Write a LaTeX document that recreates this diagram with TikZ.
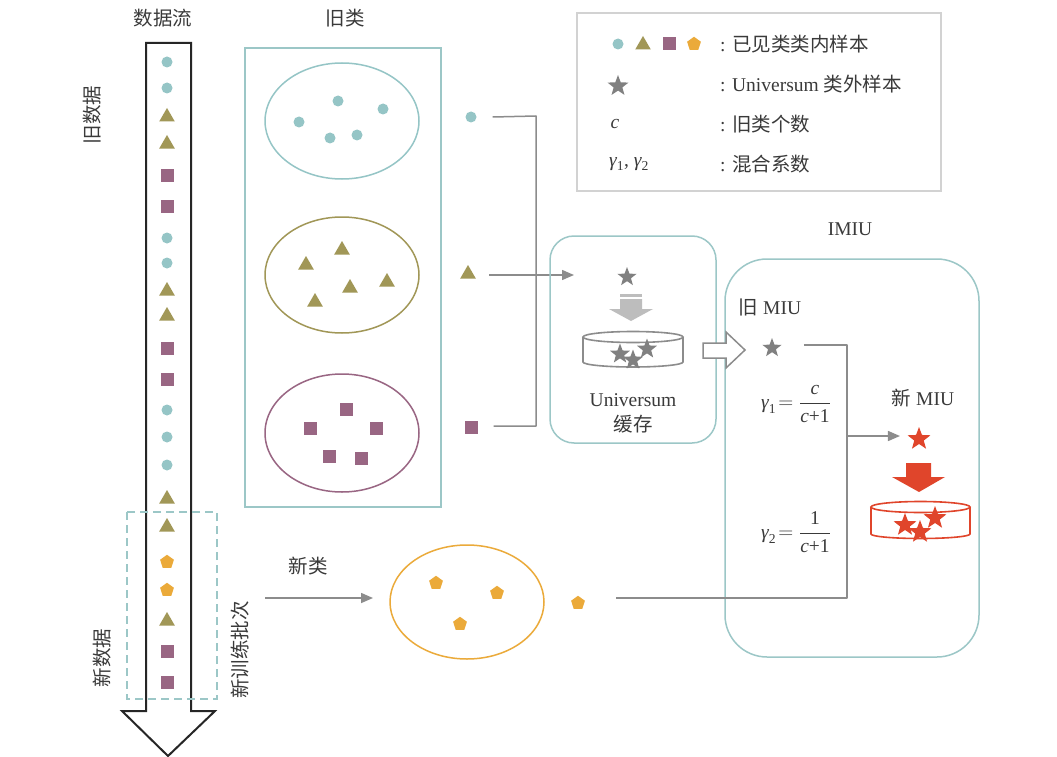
\documentclass[tikz,border=0pt]{standalone}
\usepackage{fontspec}
\usepackage{amsmath}
\setmainfont{Liberation Serif}
\newfontfamily\cjk{Noto Sans CJK SC}
\usetikzlibrary{shapes.geometric,arrows.meta}
\definecolor{cteal}{HTML}{95C5C6}
\definecolor{colive}{HTML}{A19757}
\definecolor{cpurple}{HTML}{996683}
\definecolor{corange}{HTML}{EBAA3A}
\definecolor{cgrey}{HTML}{808080}
\definecolor{cline}{HTML}{8C8C8C}
\definecolor{cred}{HTML}{E0452B}
\definecolor{ctext}{HTML}{3A3A3A}
\definecolor{cbox}{HTML}{9CC7C7}
\definecolor{clight}{HTML}{BDBDBD}
\definecolor{clegend}{HTML}{D2D2D2}
\newcommand{\mygam}{\text{\itshape γ}}
\newcommand{\myc}{\text{\itshape c}}
\begin{document}
\begin{tikzpicture}[x=1pt,y=-1pt,
  every node/.style={text=ctext, font=\fontsize{19.5}{22}\selectfont},
  dot/.style={circle,fill=cteal,inner sep=0pt,minimum size=11pt},
  tri/.style={regular polygon,regular polygon sides=3,fill=colive,inner sep=0pt,minimum size=18pt},
  sq/.style={rectangle,fill=cpurple,inner sep=0pt,minimum size=13pt},
  pent/.style={regular polygon,regular polygon sides=5,fill=corange,inner sep=0pt,minimum size=14.5pt},
  gstar/.style={star,star points=5,star point ratio=2.4,fill=cgrey,inner sep=0pt,minimum size=20pt},
  rstar/.style={star,star points=5,star point ratio=2.4,fill=cred,inner sep=0pt,minimum size=24pt},
  conn/.style={draw=cline,line width=1.5pt},
  arr/.style={conn,-{Triangle[length=12pt,width=10pt]}},
  lbl/.style={inner sep=0pt},
]
\useasboundingbox (0,0) rectangle (1057,757);
\fill[white] (0,0) rectangle (1057,757);

% ---------- data stream ----------
\node[lbl] (title) at (163,18) {\cjk 数据流};
\draw[line width=2pt,draw=black!85,fill=white,line join=miter]
  (146,43) -- (191,43) -- (191,711) -- (215,711) -- (168,756) -- (122,711) -- (146,711) -- cycle;
\foreach \t/\y [count=\i] in {dot/62,dot/88,tri/117,tri/144,sq/175,sq/206,dot/238,dot/263,tri/291,tri/316,sq/348,sq/379,dot/410,dot/437,dot/465,tri/499,tri/527,pent/562,pent/590,tri/621,sq/651,sq/682}
  \node[\t] (s\i) at (167,\y) {};
\draw[cbox,line width=1.5pt,dash pattern=on 8pt off 5pt] (127,512) rectangle (217,699);
\node[lbl,rotate=90] (olddata) at (92,115) {\cjk 旧数据};
\node[lbl,rotate=90] (newdata) at (102,658) {\cjk 新数据};
\node[lbl,rotate=90] (batch) at (240,650) {\cjk 新训练批次};

% ---------- old classes ----------
\node[lbl] (oldcls) at (345,18) {\cjk 旧类};
\draw[cbox,line width=1.5pt] (245,48) rectangle (441,507);
\draw[cteal,line width=1.5pt] (342,121) ellipse (77 and 58);
\draw[colive,line width=1.5pt] (342,275) ellipse (77 and 58);
\draw[cpurple,line width=1.5pt] (342,433) ellipse (77 and 59);
\node[dot] (a1) at (299,122) {};
\node[dot] (a2) at (338,101) {};
\node[dot] (a3) at (383,109) {};
\node[dot] (a4) at (330,138) {};
\node[dot] (a5) at (357,135) {};
\node[tri] (b1) at (342,250) {};
\node[tri] (b2) at (306,265) {};
\node[tri] (b3) at (350,288) {};
\node[tri] (b4) at (387,282) {};
\node[tri] (b5) at (315,302) {};
\node[sq] (c1) at (346,409) {};
\node[sq] (c2) at (310,428) {};
\node[sq] (c3) at (376,428) {};
\node[sq] (c4) at (329,456) {};
\node[sq] (c5) at (361,458) {};

\node[dot] (oc) at (471,117) {};
\node[tri] (ot) at (468,274) {};
\node[sq] (os) at (471,427) {};
\coordinate (jt) at (536,116);
\coordinate (jb) at (536,426);
\coordinate (uin) at (574,275);
\draw[conn,line join=round] ([xshift=16pt]oc.east) -- (jt) -- (jb) -- ([xshift=16pt]os.east |- jb);
\draw[arr] ([xshift=16pt]ot.east |- uin) -- (uin);

% ---------- Universum cache ----------
\draw[cbox,line width=1.5pt,rounded corners=24pt] (550,236) rectangle (716,443);
\node[gstar] (ustar) at (627,277) {};
\fill[clight] (620,294) rectangle (642,297);
\fill[clight] (620,299) -- (642,299) -- (642,309) -- (653,309) -- (631,321) -- (609,309) -- (620,309) -- cycle;
\draw[cline,line width=1.6pt] (633,337) ellipse (50 and 5.5);
\draw[cline,line width=1.6pt] (583,337) -- (583,362) arc[start angle=180,end angle=360,x radius=50,y radius=-5] -- (683,337);
\node[gstar,minimum size=21pt] (u1) at (620,354) {};
\node[gstar,minimum size=21pt] (u2) at (633,360) {};
\node[gstar,minimum size=21pt] (u3) at (647,349) {};
\node[lbl] (univ) at (633,400) {Universum};
\node[lbl] (cache) at (633,424) {\cjk 缓存};

% ---------- IMIU ----------
\node[lbl] (imiu) at (850,229) {IMIU};
\draw[cbox,line width=1.5pt,rounded corners=42pt] (725,259) rectangle (979,657);
\draw[cline,line width=1.5pt,fill=white,line join=miter]
  (703,343) -- (726,343) -- (726,332) -- (745,350) -- (726,368) -- (726,358) -- (703,358) -- cycle;
\node[lbl] (oldmiu) at (770,307) {{\cjk 旧} MIU};
\node[gstar] (ostar) at (772,348) {};
\coordinate (mt) at (847,345);
\coordinate (mm) at (847,436);
\coordinate (mb) at (847,598);
\node[pent] (np) at (578,603) {};
\draw[conn,line join=round] ([xshift=26pt]ostar.east |- mt) -- (mt) -- (mb) -- ([xshift=32pt]np.east |- mb);
\node[lbl] (g1) at (796,404) {$\mygam_{\text{1}}\!=\dfrac{\myc}{\myc\text{+1}}$};
\node[lbl] (g2) at (796,532) {$\mygam_{\text{2}}\!=\dfrac{\text{1}}{\myc\text{+1}}$};
\node[lbl] (newmiu) at (923,398) {{\cjk 新} MIU};
\node[rstar] (nstar) at (919,439) {};
\draw[arr] (mm) -- ([xshift=-12pt]nstar.west |- mm);
\fill[cred] (906,463) -- (931,463) -- (931,477) -- (945,477) -- (919,492) -- (892,477) -- (906,477) -- cycle;
\draw[cred,line width=1.6pt] (920.5,507) ellipse (49.5 and 5.5);
\draw[cred,line width=1.6pt] (871,507) -- (871,534) arc[start angle=180,end angle=360,x radius=49.5,y radius=-4.5] -- (970,507);
\node[rstar] (r1) at (905,525) {};
\node[rstar] (r2) at (920,532) {};
\node[rstar] (r3) at (935,518) {};

% ---------- new class ----------
\node[lbl] (newcls) at (308,566) {\cjk 新类};
\coordinate (nin) at (373,598);
\draw[arr] (265,598) -- (nin);
\draw[corange,line width=1.5pt] (467,602) ellipse (77 and 57);
\node[pent] (p1) at (436,583) {};
\node[pent] (p2) at (497,593) {};
\node[pent] (p3) at (460,624) {};

% ---------- legend ----------
\draw[clegend,line width=1.5pt] (577,13) rectangle (941,191);
\node[dot] (l1) at (618,44) {};
\node[tri] (l2) at (643,45) {};
\node[sq] (l3) at (669,44) {};
\node[pent] (l4) at (694,44) {};
\node[lbl,anchor=west] (t1) at (720,44) {: \cjk 已见类类内样本};
\node[gstar,minimum size=22pt] (l5) at (618,86) {};
\node[lbl,anchor=west] (t2) at (720,84) {: Universum {\cjk 类外样本}};
\node[lbl] (l6) at (615,124) {\itshape c};
\node[lbl,anchor=west] (t3) at (720,124) {: \cjk 旧类个数};
\node[lbl] (l7) at (629,164) {$\mygam_{\text{1}}$, $\mygam_{\text{2}}$};
\node[lbl,anchor=west] (t4) at (720,164) {: \cjk 混合系数};
\end{tikzpicture}
\end{document}
